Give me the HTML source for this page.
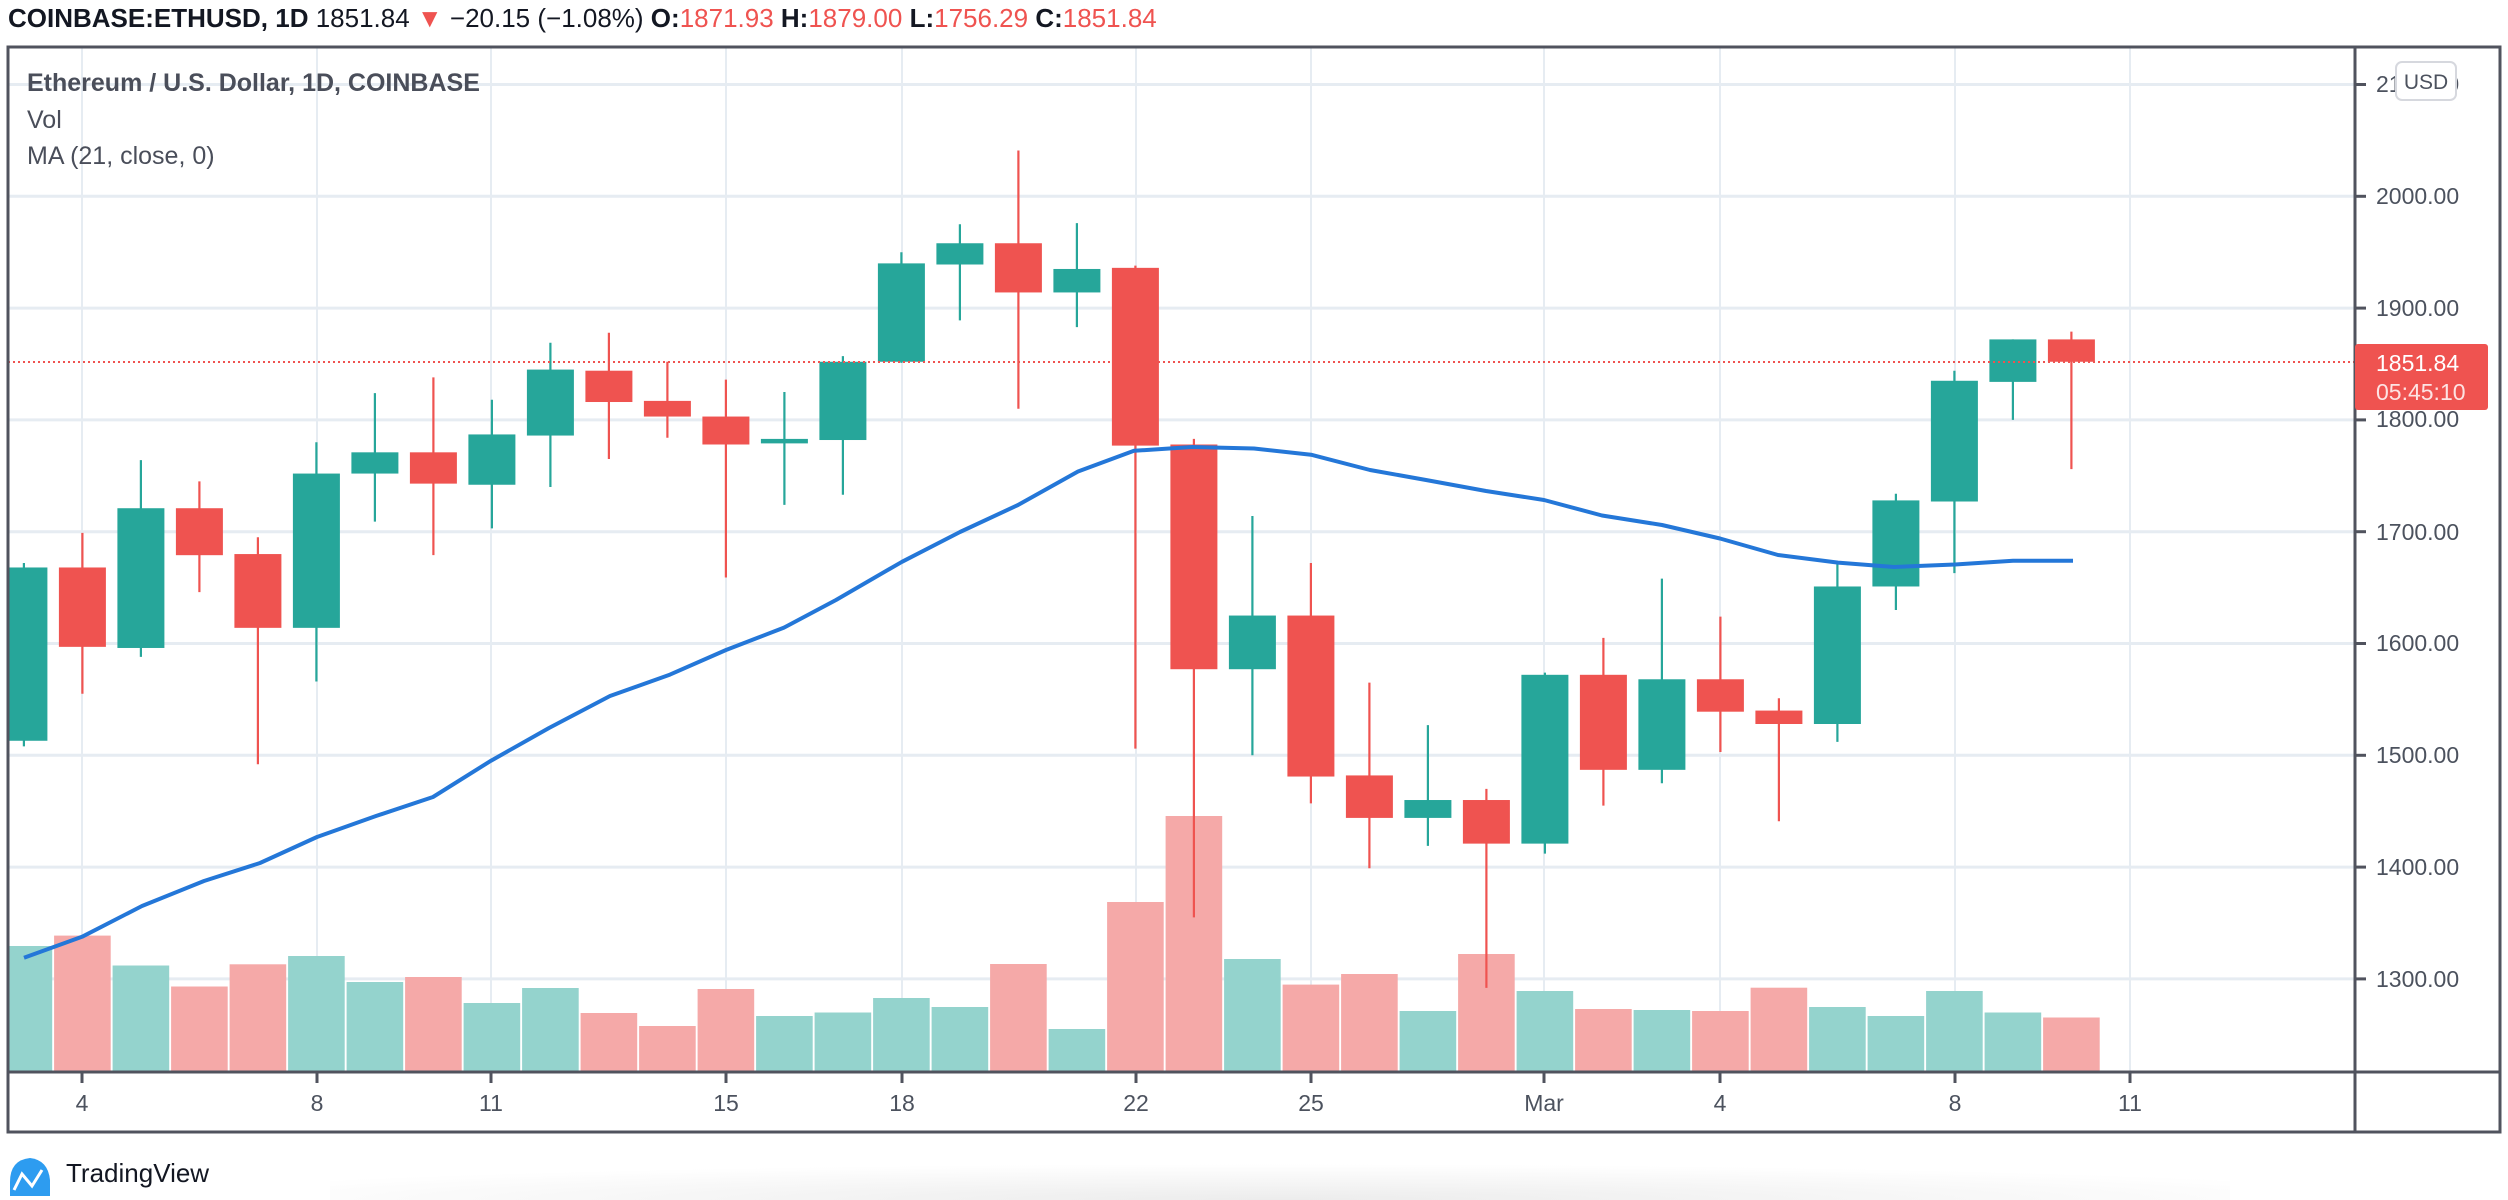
<!DOCTYPE html>
<html><head><meta charset="utf-8"><style>
html,body{margin:0;padding:0;background:#fff;width:2508px;height:1200px;overflow:hidden}
svg{display:block}
text{font-family:"Liberation Sans",sans-serif}
</style></head><body>
<svg id="s" width="2508" height="1200" viewBox="0 0 2508 1200" xmlns="http://www.w3.org/2000/svg">
<defs>
<radialGradient id="sh" cx="0.5" cy="1" r="0.6">
<stop offset="0" stop-color="#ececec"/><stop offset="1" stop-color="#ffffff"/>
</radialGradient>
</defs>
<rect x="330" y="1140" width="1900" height="60" fill="url(#sh)"/>
<g id="grid"></g>
<g id="vol"></g>
<g id="cand"></g>
<polyline id="ma" fill="none" stroke="#2477d8" stroke-width="4" stroke-linejoin="round" points="24,957.8 82,936.8 142,906 204,881 260,863 317,837 376,816 433,797 491,760.7 549,728 610,696 670,674.6 726,650 784,627.6 836,600 902,561.8 960,532 1018,505 1078,471.5 1134,450.8 1192,447 1254,448.5 1311,454.7 1370,470 1426,480 1486,491 1544,500 1602,515.5 1662,525 1720,538.5 1778,555 1838,562.6 1894,567 1955,564.5 2013,560.7 2073,560.7"/>
<line x1="8" y1="362" x2="2355" y2="362" stroke="#ef5350" stroke-width="2" stroke-dasharray="2,3"/>
<rect x="8" y="47" width="2492" height="1085" fill="none" stroke="#50535e" stroke-width="3"/>
<line x1="2355" y1="47" x2="2355" y2="1132" stroke="#50535e" stroke-width="3"/>
<line x1="8" y1="1072" x2="2500" y2="1072" stroke="#50535e" stroke-width="3"/>
<g id="ticks"></g>
<g font-size="23" fill="#4c525e">
<text x="2376" y="92">2100.00</text>
<text x="2376" y="204">2000.00</text>
<text x="2376" y="316">1900.00</text>
<text x="2376" y="427">1800.00</text>
<text x="2376" y="540">1700.00</text>
<text x="2376" y="651">1600.00</text>
<text x="2376" y="763">1500.00</text>
<text x="2376" y="875">1400.00</text>
<text x="2376" y="987">1300.00</text>
</g>
<rect x="2396" y="62" width="60" height="38" rx="6" fill="#fff" stroke="#d6d8de" stroke-width="2"/>
<text x="2426" y="89" font-size="21" fill="#4c525e" text-anchor="middle">USD</text>
<rect x="2355" y="344" width="133" height="66" rx="3" fill="#ef5350"/>
<text x="2376" y="371" font-size="23" fill="#fff">1851.84</text>
<text x="2376" y="400" font-size="23" fill="#fde3e3">05:45:10</text>
<g font-size="23" fill="#4c525e" text-anchor="middle">
<text x="82" y="1111">4</text>
<text x="317" y="1111">8</text>
<text x="491" y="1111">11</text>
<text x="726" y="1111">15</text>
<text x="902" y="1111">18</text>
<text x="1136" y="1111">22</text>
<text x="1311" y="1111">25</text>
<text x="1544" y="1111">Mar</text>
<text x="1720" y="1111">4</text>
<text x="1955" y="1111">8</text>
<text x="2130" y="1111">11</text>
</g>
<text x="8" y="27" font-size="26" fill="#131722"><tspan font-weight="bold">COINBASE:ETHUSD, 1D</tspan> 1851.84 <tspan fill="#ef5350">▼</tspan> −20.15 (−1.08%) <tspan font-weight="bold">O:</tspan><tspan fill="#ef5350">1871.93</tspan> <tspan font-weight="bold">H:</tspan><tspan fill="#ef5350">1879.00</tspan> <tspan font-weight="bold">L:</tspan><tspan fill="#ef5350">1756.29</tspan> <tspan font-weight="bold">C:</tspan><tspan fill="#ef5350">1851.84</tspan></text>
<text x="27" y="91" font-size="25" fill="#4a4e5a" font-weight="bold">Ethereum / U.S. Dollar, 1D, COINBASE</text>
<text x="27" y="128" font-size="25" fill="#4a4e5a">Vol</text>
<text x="27" y="164" font-size="25" fill="#4a4e5a">MA (21, close, 0)</text>
<path d="M10,1196 L10,1182 Q10,1160 30,1158 Q48,1160 50,1180 L50,1196 Z" fill="#2d9cf0"/>
<polyline points="14,1190 22,1174 32,1186 42,1170" fill="none" stroke="#fff" stroke-width="3"/>
<text x="66" y="1182" font-size="26" fill="#131722">TradingView</text>
</svg>
<script>
const NS="http://www.w3.org/2000/svg";
function el(g,t,a){const e=document.createElementNS(NS,t);for(const k in a)e.setAttribute(k,a[k]);document.getElementById(g).appendChild(e);}
const Y=p=>196.3+(2000-p)*1.118, X=i=>82.4+58.5*i;
for(let p=1300;p<=2100;p+=100){el('grid','line',{x1:8,x2:2355,y1:Y(p),y2:Y(p),stroke:'#e6ecf2','stroke-width':3});el('ticks','line',{x1:2355,x2:2366,y1:Y(p),y2:Y(p),stroke:'#50535e','stroke-width':3});}
[82,317,491,726,902,1136,1311,1544,1720,1955,2130].forEach(x=>{el('grid','line',{x1:x,x2:x,y1:47,y2:1072,stroke:'#e6ecf2','stroke-width':2});el('ticks','line',{x1:x,x2:x,y1:1072,y2:1083,stroke:'#50535e','stroke-width':3});});
const D=[[-1,1513,1672,1508,1668],[0,1668,1699,1555,1597],[1,1596,1764,1588,1721],[2,1721,1745,1646,1679],[3,1680,1695,1492,1614],[4,1614,1780,1566,1752],[5,1752,1824,1709,1771],[6,1771,1838,1679,1743],[7,1742,1818,1703,1787],[8,1786,1869,1740,1845],[9,1844,1878,1765,1816],[10,1817,1852,1784,1803],[11,1803,1836,1659,1778],[12,1779,1825,1724,1783],[13,1782,1857,1733,1852],[14,1852,1950,1851,1940],[15,1939,1975,1889,1958],[16,1958,2041,1810,1914],[17,1914,1976,1883,1935],[18,1936,1938,1506,1777],[19,1778,1783,1355,1577],[20,1577,1714,1500,1625],[21,1625,1672,1457,1481],[22,1482,1565,1399,1444],[23,1444,1527,1419,1460],[24,1460,1470,1292,1421],[25,1421,1574,1412,1572],[26,1572,1605,1455,1487],[27,1487,1658,1475,1568],[28,1568,1624,1503,1539],[29,1540,1551,1441,1528],[30,1528,1672,1512,1651],[31,1651,1734,1630,1728],[32,1727,1844,1663,1835],[33,1834,1872,1800,1872],[34,1872,1879,1756,1852]];
const V=[946,935.6,965.5,986.5,964.3,956,982,977,1003,988,1013,1026,989,1016,1012.5,998,1007,964,1029,902,816,959,984.6,974,1011,954,991,1009,1010,1011,987.7,1007,1016,991,1012.5,1017.5];
D.forEach((d,k)=>{const [i,o,h,l,c]=d,x=X(i),up=c>=o,col=up?'#26a69a':'#ef5350';
 const vx=Math.max(8,x-28.3);el('vol','rect',{x:vx,y:V[k],width:x+28.3-vx,height:1071-V[k],fill:up?'#94d3cd':'#f5a9a8'});
 el('cand','line',{x1:x,x2:x,y1:Y(h),y2:Y(l),stroke:col,'stroke-width':2.2});
 const t=Y(Math.max(o,c)),b=Y(Math.min(o,c));const bx=Math.max(8,x-23.5);
 el('cand','rect',{x:bx,y:t,width:x+23.5-bx,height:Math.max(2.5,b-t),fill:col});
});
</script>
</body></html>
